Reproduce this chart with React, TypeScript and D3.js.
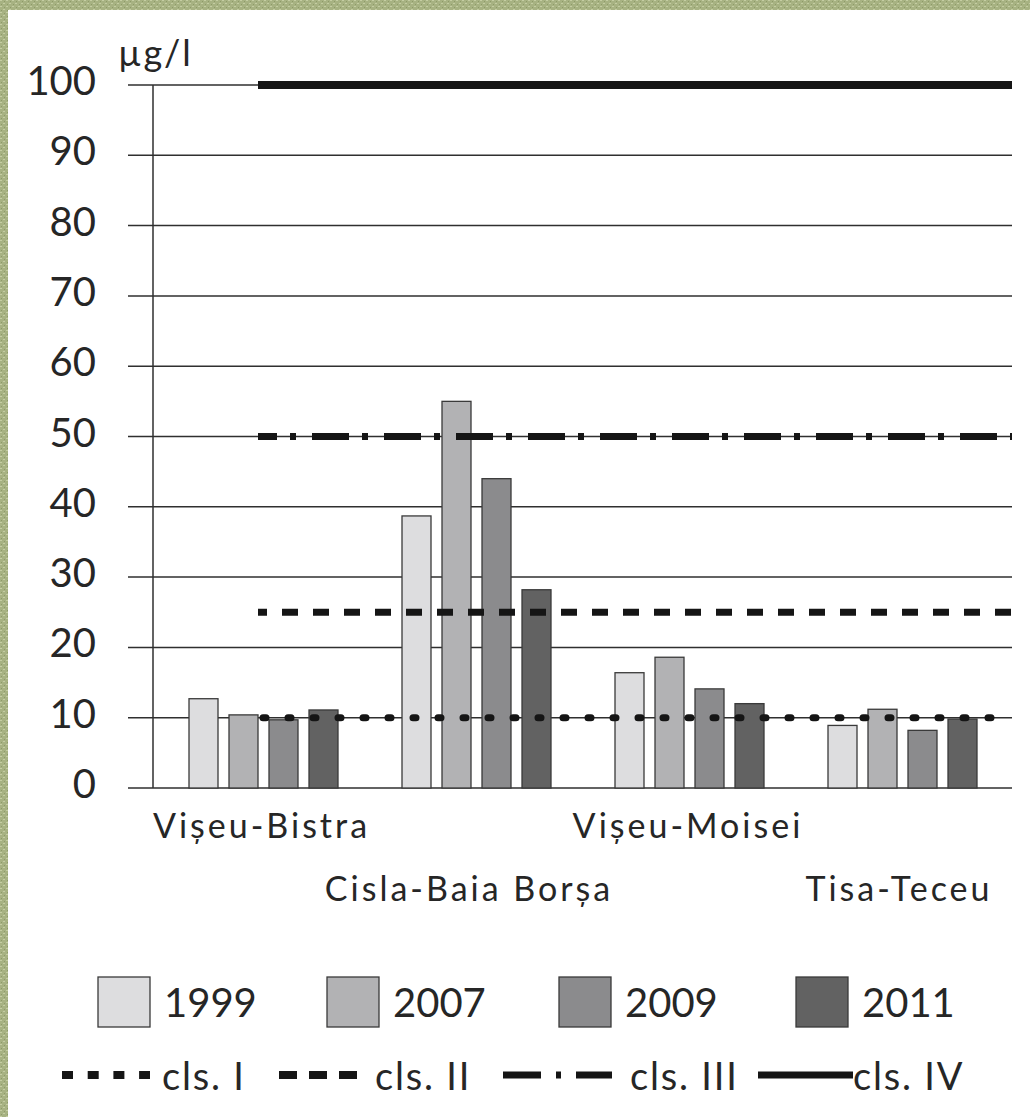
import React from "react";
import * as d3 from "d3";

const stations = ["Vișeu-Bistra", "Cisla-Baia Borșa", "Vișeu-Moisei", "Tisa-Teceu"];
const years = ["1999", "2007", "2009", "2011"];
const v1999 = [12.7, 38.7, 16.4, 8.9];
const v2007 = [10.4, 55.0, 18.6, 11.2];
const v2009 = [9.7, 44.0, 14.1, 8.2];
const v2011 = [11.1, 28.2, 12.0, 9.8];
const seriesValues = [v1999, v2007, v2009, v2011];
const yTicks = [0, 10, 20, 30, 40, 50, 60, 70, 80, 90, 100];
const classNames = ["cls. I", "cls. II", "cls. III", "cls. IV"];
const classLimits = [10, 25, 50, 100];
const unitLabel = "µg/l";

const W = 1030;
const H = 1117;
const FONT = "Lato, 'Open Sans', sans-serif";
const TEXT = "#262626";
const yearColors = ["#dddddf", "#b2b2b4", "#8b8b8d", "#626262"];

const chartStyles = [
  { w: 7, dash: "3 22", off: -5, cap: "round" },
  { w: 7, dash: "16 15", off: 7, cap: "butt" },
  { w: 7, dash: "37 13 6 16", off: 18, cap: "butt" },
  { w: 8, dash: "none", off: 0, cap: "butt" },
];
const legendStyles = [
  { w: 8, dash: "11 14.7", len: 88 },
  { w: 8, dash: "18 12", len: 78 },
  { w: 7, dash: "38 15 5 15", len: 109 },
  { w: 7, dash: "none", len: 95 },
];

export default function App() {
  const plotLeft = 153;
  const plotRight = 1012;
  const y = d3.scaleLinear().domain([0, 100]).range([788, 85]);
  const x0 = d3.scaleBand<string>().domain(stations).range([157, 1009]).paddingInner(0).paddingOuter(0);
  const x1 = d3
    .scaleBand<string>()
    .domain(years)
    .range([0, x0.bandwidth()])
    .paddingInner(0.275)
    .paddingOuter(0.8);

  const threshStart = 258;
  const labelShift = [-2, -7.5, -1.5, -3.5];

  const legendSwatchX = [98, 327, 559, 796];
  const legendLineX = [62, 279, 503, 758];
  const legendTextX = [162, 375, 630, 853];

  return (
    <svg
      width={W}
      height={H}
      viewBox={`0 0 ${W} ${H}`}
      style={{ position: "absolute", left: 0, top: 0, display: "block" }}
    >
      <defs>
        <pattern id="burlap" width="6" height="6" patternUnits="userSpaceOnUse">
          <rect width="6" height="6" fill="#a7b282" />
          <rect x="0" y="0" width="2" height="1" fill="#c4cda2" />
          <rect x="3" y="3" width="2" height="1" fill="#c4cda2" />
          <rect x="1" y="4" width="1" height="1" fill="#8d9a68" />
          <rect x="4" y="1" width="1" height="1" fill="#8d9a68" />
        </pattern>
      </defs>
      <rect x={0} y={0} width={W} height={H} fill="url(#burlap)" />
      <rect x={8} y={10} width={W - 8} height={H - 10} fill="#ffffff" />

      {yTicks.map((t) => (
        <g key={t}>
          <line x1={128} x2={plotRight} y1={y(t)} y2={y(t)} stroke="#2f2f2f" strokeWidth={1.5} />
          <text x={96} y={y(t) + 10} textAnchor="end" fontFamily={FONT} fontSize={40} fill={TEXT}>
            {t}
          </text>
        </g>
      ))}
      <line x1={plotLeft} x2={plotLeft} y1={y(100)} y2={y(0)} stroke="#2f2f2f" strokeWidth={1.5} />
      <text x={118} y={66} fontFamily={FONT} fontSize={36} letterSpacing={2} fill={TEXT}>
        {unitLabel}
      </text>

      {stations.map((s, i) => (
        <g key={s} transform={`translate(${x0(s)},0)`}>
          {years.map((yr, j) => {
            const v = seriesValues[j][i];
            return (
              <rect
                key={yr}
                x={x1(yr)}
                y={y(v)}
                width={x1.bandwidth()}
                height={y(0) - y(v)}
                fill={yearColors[j]}
                stroke="#3a3a3a"
                strokeWidth={1.3}
              />
            );
          })}
        </g>
      ))}

      {classLimits.map((c, k) => {
        const st = chartStyles[k];
        return (
          <line
            key={c}
            x1={threshStart}
            x2={plotRight}
            y1={y(c)}
            y2={y(c)}
            stroke="#151515"
            strokeWidth={st.w}
            strokeDasharray={st.dash}
            strokeDashoffset={st.off}
            strokeLinecap={st.cap as any}
          />
        );
      })}

      {stations.map((s, i) => (
        <text
          key={s}
          x={(x0(s) as number) + x0.bandwidth() / 2 + labelShift[i]}
          y={i % 2 === 0 ? 838 : 901}
          textAnchor="middle"
          fontFamily={FONT}
          fontSize={34}
          letterSpacing={3}
          fill={TEXT}
        >
          {s}
        </text>
      ))}

      {years.map((yr, j) => (
        <g key={yr}>
          <rect
            x={legendSwatchX[j]}
            y={977}
            width={52}
            height={50}
            fill={yearColors[j]}
            stroke="#3a3a3a"
            strokeWidth={1.3}
          />
          <text x={legendSwatchX[j] + 66} y={1017} fontFamily={FONT} fontSize={40} fill={TEXT}>
            {yr}
          </text>
        </g>
      ))}

      {classNames.map((n, k) => {
        const st = legendStyles[k];
        return (
          <g key={n}>
            <line
              x1={legendLineX[k]}
              x2={legendLineX[k] + st.len}
              y1={1075}
              y2={1075}
              stroke="#151515"
              strokeWidth={st.w}
              strokeDasharray={st.dash}
            />
            <text
              x={legendTextX[k]}
              y={1090}
              fontFamily={FONT}
              fontSize={38}
              letterSpacing={1.8}
              fill={TEXT}
            >
              {n}
            </text>
          </g>
        );
      })}
    </svg>
  );
}
